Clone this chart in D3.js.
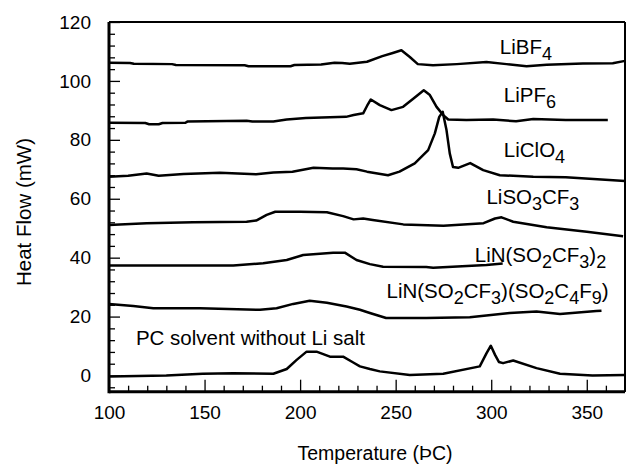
<!DOCTYPE html>
<html>
<head>
<meta charset="utf-8">
<script src="https://cdn.jsdelivr.net/npm/d3@7/dist/d3.min.js"></script>
<style>
    body { margin: 0; background: white; }
    svg text { font-family: "Liberation Sans", Arial, sans-serif; fill: black; }
</style>
</head>
<body>
<div id="chart"></div>
<script>
// series names (digits are drawn as subscripts)
var seriesNames = ["LiBF4", "LiPF6", "LiClO4", "LiSO3CF3", "LiN(SO2CF3)2",
                   "LiN(SO2CF3)(SO2C4F9)", "PC solvent without Li salt"];

// LiBF4
var tempLiBF4 = [100, 111, 113, 133, 135, 171, 173, 195, 197, 211, 218, 222, 226, 235, 243, 248.5, 253, 257.4, 261.6, 269.5, 282, 297.5, 308, 318.5, 329, 348, 363.6, 370];
var flowLiBF4 = [106.2, 106.1, 105.8, 105.7, 105.4, 105.3, 105.0, 105.0, 105.4, 105.6, 106.2, 106.1, 105.8, 106.5, 108.4, 109.5, 110.4, 108.1, 105.7, 105.3, 105.7, 106.4, 105.7, 105.0, 105.5, 105.9, 106.0, 106.8];

// LiPF6
var tempLiPF6 = [100, 119, 121, 126, 128, 140, 141, 172, 175, 186, 193, 203, 224, 228, 233, 235, 237, 241.7, 247.8, 253.9, 260, 264.7, 267.9, 271.4, 274.9, 277.5, 287, 301, 313, 322, 339, 361];
var flowLiPF6 = [85.8, 85.7, 85.3, 85.3, 85.7, 85.8, 86.2, 86.5, 86.2, 86.2, 86.9, 87.4, 87.8, 88.4, 89.0, 91.5, 93.7, 91.8, 90.1, 91.2, 94.4, 96.8, 95.2, 91.2, 88.4, 86.9, 86.7, 86.9, 86.3, 87.1, 86.7, 86.7];

// LiClO4
var tempLiClO4 = [100, 110, 119.7, 126, 139, 158, 177, 186, 196, 207, 217, 222.5, 229.5, 235, 246, 252, 260, 267, 270.5, 272.8, 274.6, 276.6, 278.3, 280, 282.7, 289, 295.8, 304.5, 322, 339, 370];
var flowLiClO4 = [67.5, 67.8, 68.6, 67.8, 68.4, 68.8, 68.3, 68.9, 69.2, 70.5, 70.3, 70.3, 70.0, 69.2, 68.0, 69.2, 72.0, 76.5, 82.2, 87.8, 89.5, 83.3, 75.4, 70.8, 70.5, 72.1, 69.7, 68.0, 67.5, 67.3, 66.0];

// LiSO3CF3
var tempLiSO3CF3 = [100, 119.7, 144, 172, 177, 182.5, 187, 200, 214, 222.5, 228, 233, 238, 254, 275, 296, 302, 305.4, 311.5, 329, 350, 369];
var flowLiSO3CF3 = [51.1, 51.7, 52.0, 52.2, 52.6, 54.5, 55.6, 55.6, 55.4, 54.1, 53.0, 53.3, 52.8, 51.3, 50.8, 51.7, 53.3, 53.7, 52.2, 50.3, 48.8, 47.3];

// LiN(SO2CF3)2
var tempLiTFSI = [100, 165, 180.7, 193, 201.6, 210.4, 217.3, 223.4, 229.5, 236.5, 243.4, 266, 269.6, 297.5, 306];
var flowLiTFSI = [37.3, 37.3, 38.1, 39.2, 40.9, 41.3, 41.7, 41.7, 39.2, 37.8, 36.9, 36.8, 36.6, 37.5, 38.0];

// LiN(SO2CF3)(SO2C4F9)
var tempLiNFSI = [100, 112.7, 123.2, 147.6, 179, 187.7, 196.4, 205, 214, 224.3, 231.3, 236.5, 245, 266, 288.8, 309.7, 323.7, 336, 355, 357.7];
var flowLiNFSI = [24.3, 23.6, 22.8, 22.8, 22.3, 22.8, 24.3, 25.4, 24.7, 23.4, 22.3, 21.2, 19.5, 19.5, 19.8, 21.2, 21.7, 20.9, 21.9, 22.0];

// PC solvent without Li salt
var tempPC = [100, 130, 149, 165, 186, 193, 198.2, 203.4, 208.6, 215.6, 222.5, 227.8, 231.3, 236.5, 241.7, 257.4, 274.9, 294, 297.5, 299.8, 302, 304, 306.2, 311.5, 323.7, 336, 353, 370];
var flowPC = [-0.3, 0, 0.6, 0.8, 0.6, 2.2, 5.3, 8.1, 8.1, 6.4, 6.4, 4.4, 3.1, 2.2, 1.4, 0.2, 0.6, 3.1, 7.5, 10.1, 7.0, 4.6, 4.2, 5.1, 2.5, 0.6, 0, 0.2];

var xTicks = [100, 150, 200, 250, 300, 350];
var yTicks = [0, 20, 40, 60, 80, 100, 120];

var seriesTemps = [tempLiBF4, tempLiPF6, tempLiClO4, tempLiSO3CF3, tempLiTFSI, tempLiNFSI, tempPC];
var seriesFlows = [flowLiBF4, flowLiPF6, flowLiClO4, flowLiSO3CF3, flowLiTFSI, flowLiNFSI, flowPC];

const WIDTH = 626, HEIGHT = 465;
const LEFT = 109, RIGHT = 625, TOP = 22, BOTTOM = 391.7;

// label anchors, in data units (temperature, heat flow at baseline)
var labelAnchors = [[304.5, 109.3], [306.6, 92.9], [306.6, 74.2], [297.5, 58.2],
                    [291.4, 38.6], [245.2, 26.2], [114.1, 10.4]];

var svg = d3.select("#chart").append("svg")
            .attr("width", WIDTH)
            .attr("height", HEIGHT);

var x = d3.scaleLinear().domain([100, 370]).range([LEFT, RIGHT]);
var y = d3.scaleLinear().domain([-5.5, 120]).range([BOTTOM, TOP]);

//minor ticks
var xMinor = d3.range(100, 371, 10).filter(function(v){ return v % 50 !== 0; });
var yMinor = d3.range(-4, 121, 4).filter(function(v){ return v % 20 !== 0; });

svg.append("g")
    .attr("transform", "translate(0," + BOTTOM + ")")
    .call(d3.axisBottom(x).tickValues(xMinor).tickSize(-6).tickFormat(""))
    .call(function(g){ g.select(".domain").remove(); })
    .selectAll("line").attr("stroke-width", 1.3);

svg.append("g")
    .attr("transform", "translate(" + LEFT + ",0)")
    .call(d3.axisLeft(y).tickValues(yMinor).tickSize(-6).tickFormat(""))
    .call(function(g){ g.select(".domain").remove(); })
    .selectAll("line").attr("stroke-width", 1.3);

//major ticks and labels
var xAxis = svg.append("g")
    .attr("transform", "translate(0," + BOTTOM + ")")
    .call(d3.axisBottom(x).tickValues(xTicks).tickSize(-12).tickPadding(13.5).tickSizeOuter(0));
xAxis.select(".domain").remove();
xAxis.selectAll("line").attr("stroke-width", 1.3);
xAxis.selectAll("text").attr("font-size", "19px").attr("font-family", null);

var yAxis = svg.append("g")
    .attr("transform", "translate(" + LEFT + ",0)")
    .call(d3.axisLeft(y).tickValues(yTicks).tickSize(-11).tickPadding(18).tickSizeOuter(0));
yAxis.select(".domain").remove();
yAxis.selectAll("line").attr("stroke-width", 1.3);
yAxis.selectAll("text").attr("font-size", "19px").attr("font-family", null);

//frame
svg.append("line").attr("x1", LEFT).attr("x2", RIGHT).attr("y1", TOP).attr("y2", TOP)
    .attr("stroke", "black").attr("stroke-width", 2);
svg.append("line").attr("x1", RIGHT).attr("x2", RIGHT).attr("y1", TOP).attr("y2", BOTTOM)
    .attr("stroke", "black").attr("stroke-width", 2);
svg.append("line").attr("x1", LEFT).attr("x2", LEFT).attr("y1", TOP).attr("y2", BOTTOM + 1.5)
    .attr("stroke", "black").attr("stroke-width", 3);
svg.append("line").attr("x1", LEFT).attr("x2", RIGHT).attr("y1", BOTTOM).attr("y2", BOTTOM)
    .attr("stroke", "black").attr("stroke-width", 3);

//curves
var line = d3.line()
    .x(function(d){ return x(d[0]); })
    .y(function(d){ return y(d[1]); });

seriesTemps.forEach(function(temps, i){
    svg.append("path")
        .datum(d3.zip(temps, seriesFlows[i]))
        .attr("fill", "none")
        .attr("stroke", "black")
        .attr("stroke-width", 2.5)
        .attr("stroke-linejoin", "round")
        .attr("d", line);
});

//series labels, digits become subscripts
seriesNames.forEach(function(name, i){
    var t = svg.append("text")
        .attr("x", x(labelAnchors[i][0]))
        .attr("y", y(labelAnchors[i][1]))
        .attr("font-size", "20.5px");
    var parts = name.indexOf("PC") === 0 ? [name] : name.split(/(\d+)/);
    var down = false;
    parts.forEach(function(p){
        if (p === "") return;
        var isSub = /^\d+$/.test(p);
        var span = t.append("tspan").text(p);
        if (isSub && !down) { span.attr("dy", 6).attr("font-size", "18px"); down = true; }
        else if (isSub) { span.attr("font-size", "18px"); }
        else if (down) { span.attr("dy", -6); down = false; }
    });
});

//axis titles
svg.append("text")
    .attr("transform", "translate(31," + 212 + ") rotate(-90)")
    .attr("text-anchor", "middle")
    .attr("font-size", "20.5px")
    .text("Heat Flow (mW)");

svg.append("text")
    .attr("x", 375)
    .attr("y", 460)
    .attr("text-anchor", "middle")
    .attr("font-size", "19.5px")
    .text("Temperature (ÞC)");
</script>
</body>
</html>
